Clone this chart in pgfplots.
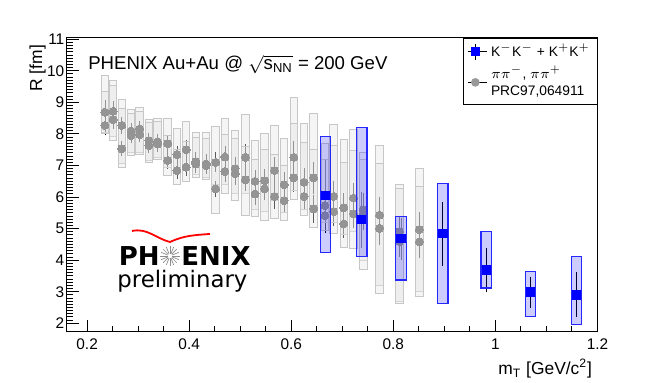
\documentclass[border=0pt]{standalone}
\usepackage{fontspec}
\setmainfont{Liberation Sans}
\newfontfamily\logofont{DejaVu Sans}
\usepackage{pgfplots}
\usepackage{pgfplotstable}
\pgfplotsset{compat=1.18}

% pion points: x, R, stat error, systematic low/high
\pgfplotstableread{
x     y     e     slo   shi
0.235 8.69  0.33  8.05  9.86
0.235 8.27  0.25  8.00  9.36
0.251 8.72  0.25  7.92  9.70
0.251 8.45  0.22  7.79  9.54
0.268 8.27  0.20  7.05  9.09
0.268 7.53  0.17  6.93  8.80
0.286 8.09  0.18  7.40  8.77
0.286 7.95  0.17  7.32  8.65
0.303 8.16  0.18  7.40  8.83
0.303 7.98  0.18  7.34  8.70
0.321 7.79  0.18  7.15  8.45
0.321 7.63  0.17  7.10  8.35
0.338 7.75  0.18  7.25  8.48
0.338 7.68  0.18  7.19  8.40
0.358 7.69  0.20  6.95  8.48
0.358 7.16  0.20  6.68  7.95
0.376 7.34  0.22  6.75  8.16
0.376 6.84  0.20  6.40  7.50
0.394 7.50  0.25  6.85  8.41
0.394 6.95  0.22  6.50  7.75
0.413 7.12  0.25  6.70  8.03
0.413 7.05  0.22  6.61  7.90
0.433 7.05  0.25  6.62  8.06
0.433 7.00  0.22  6.55  7.85
0.452 7.10  0.25  6.40  8.22
0.452 6.26  0.20  5.47  7.20
0.470 7.27  0.30  6.40  8.48
0.470 6.81  0.28  6.10  7.98
0.490 6.90  0.30  6.10  8.11
0.490 6.74  0.28  5.89  7.87
0.510 7.26  0.35  6.10  8.61
0.510 6.55  0.30  5.41  7.60
0.529 6.50  0.30  5.60  7.79
0.529 6.10  0.28  5.38  7.20
0.548 6.52  0.32  5.55  8.00
0.548 6.26  0.30  5.25  7.50
0.567 6.84  0.38  5.90  8.27
0.567 6.02  0.32  5.31  7.35
0.586 6.39  0.35  5.50  7.85
0.586 5.89  0.32  5.25  7.00
0.605 7.26  0.45  6.20  9.15
0.605 6.61  0.38  5.91  8.32
0.625 6.47  0.40  5.60  8.32
0.625 6.02  0.38  5.41  7.74
0.644 6.61  0.45  5.50  8.66
0.644 5.63  0.38  5.02  7.50
0.666 5.73  0.40  5.20  7.69
0.666 5.41  0.38  4.95  7.20
0.683 6.02  0.42  5.20  8.29
0.683 5.54  0.38  4.83  7.63
0.703 5.66  0.40  4.80  7.82
0.703 5.15  0.38  4.41  7.10
0.722 5.97  0.42  4.90  8.13
0.722 5.47  0.40  4.36  7.48
0.741 5.60  0.45  4.00  7.42
0.741 5.45  0.42  3.72  7.20
0.773 5.43  0.50  3.20  7.63
0.773 5.01  0.45  2.93  7.05
0.812 4.90  0.45  2.70  6.39
0.812 4.60  0.45  2.63  6.26
0.851 4.97  0.50  3.00  6.90
0.851 4.58  0.45  2.84  6.32
}\pions

% kaon points: x, R, stat errors (minus/plus), systematic low/high
\pgfplotstableread{
x     y     em    ep    slo   shi
0.667 6.05  1.11  1.09  4.25  7.93
0.738 5.28  0.84  0.82  4.11  8.20
0.815 4.68  0.61  0.60  3.37  5.39
0.897 4.84  0.96  0.94  2.64  6.43
0.982 3.69  0.64  0.64  3.12  4.91
1.069 2.99  0.44  0.42  2.21  3.64
1.159 2.90  0.64  0.66  1.97  4.11
}\kaons

\newcommand{\yu}{15.78} % pt per fm along y

\pgfdeclareplotmark{sysbox}{%
  \pgfpathrectanglecorners{\pgfpoint{-\pgfplotmarksize}{\blo pt}}{\pgfpoint{\pgfplotmarksize}{\bhi pt}}%
  \pgfusepathqfillstroke}

\pgfplotsset{
  sysbox/.style={only marks, scatter, mark=sysbox, forget plot,
    visualization depends on={(\thisrow{slo}-\thisrow{y})*\yu \as \blo},
    visualization depends on={(\thisrow{shi}-\thisrow{y})*\yu \as \bhi}},
}

\begin{document}
\begin{tikzpicture}
\begin{axis}[
    name=ax,
    scale only axis,
    width=265.4pt, height=146.85pt,
    xmin=0.16, xmax=1.2,
    ymin=1.734, ymax=11.04,
    xtick={0.2,0.4,...,1.2},
    ytick={2,...,11},
    minor x tick num=3,
    minor y tick num=9,
    tick align=inside,
    xtick pos=bottom, ytick pos=left,
    major tick length=6pt, minor tick length=3pt,
    tick style={black, line width=0.5pt},
    axis line style={line width=0.5pt},
    ticklabel style={font=\fontsize{7.7}{9}\selectfont},
    yticklabel style={inner xsep=1pt},
    /pgf/number format/assume math mode=true,
    xlabel={m\textsubscript{T} [GeV/c\textsuperscript{2}]},
    xlabel style={at={(axis description cs:1.003,-0.068)}, anchor=north east, font=\fontsize{8.7}{10}\selectfont},
    ylabel={R [fm]},
    ylabel style={at={(axis description cs:-0.055,1)}, anchor=east, font=\fontsize{8.7}{10}\selectfont},
    legend style={at={(1,1)}, anchor=north east, draw=black, line width=0.5pt,
      font=\fontsize{6.9}{7.8}\selectfont, row sep=0pt, inner xsep=2pt, inner ysep=1pt,
      nodes={inner sep=1.6pt}},
    legend cell align=left,
]
\addlegendimage{legend image code/.code={
  \path (0,0) -- (9.5pt,0);
  \draw[black, line width=0.4pt] (3.5pt,-4pt) -- (3.5pt,4pt);
  \fill[blue] (3.5pt,0pt) ++(-2pt,-2pt) rectangle ++(4pt,4pt);}}
\addlegendentry{K$^{-}$K$^{-}$ + K$^{+}$K$^{+}$}
\addlegendimage{legend image code/.code={
  \path (0,0) -- (9.5pt,0);
  \fill[black!40] (3.5pt,0pt) circle (1.9pt);}}
\addlegendentry{\shortstack[l]{$\pi\pi^{-}$, $\pi\pi^{+}$\\PRC97,064911}}

% pion systematic boxes
\addplot[sysbox, mark size=1.9pt,
  scatter/use mapped color={draw=black!22, fill=black!10},
  mark options={line width=0.5pt, fill opacity=0.4}] table {\pions};
% pion points with statistical errors
\addplot[only marks, forget plot, color=black!42, mark=*, mark size=2pt,
  mark options={draw=black!42, fill=black!42, line width=0pt},
  error bars/.cd, y dir=both, y explicit,
  error bar style={black, line width=0.4pt},
  error mark options={black, mark size=1pt, line width=0.4pt}]
  table[y error=e] {\pions};
% kaon systematic boxes
\addplot[sysbox, mark size=2.6pt,
  scatter/use mapped color={draw=blue!85, fill=blue},
  mark options={line width=0.6pt, fill opacity=0.2}] table {\kaons};
% kaon points with statistical errors
\addplot[only marks, forget plot, color=blue, mark=square*, mark size=2.1pt,
  mark options={draw=blue, fill=blue, line width=0pt},
  error bars/.cd, y dir=both, y explicit,
  error bar style={black, line width=0.4pt},
  error mark options={black, mark size=1pt, line width=0.4pt}]
  table[y error plus=ep, y error minus=em] {\kaons};

\node[anchor=base west, inner sep=0pt, font=\fontsize{9.3}{11}\selectfont]
  at (axis description cs:0.040,0.893) {PHENIX Au+Au @ $\sqrt{\mathrm{s}_{\mathrm{NN}}}$ = 200 GeV};

% PHENIX preliminary logo
\node[anchor=base east, inner sep=0pt, font=\logofont\bfseries\fontsize{13}{15}\selectfont]
  at (axis description cs:0.1758,0.2271) {PH};
\node[anchor=base west, inner sep=0pt, font=\logofont\bfseries\fontsize{13}{15}\selectfont]
  at (axis description cs:0.2153,0.2271) {ENIX};
\coordinate (star) at (axis description cs:0.1946,0.2578);
\draw[red, line width=0.9pt] (axis description cs:0.123,0.343)
  to[out=12, in=165] (axis description cs:0.1946,0.3054)
  to[out=25, in=185] (axis description cs:0.270,0.333);
\node[anchor=base west, inner sep=0pt, font=\logofont\fontsize{11.4}{13}\selectfont]
  at (axis description cs:0.0949,0.1522) {preliminary};
\end{axis}
\foreach \a in {0,22.5,...,337.5}
  \draw[black!45, line width=0.35pt] ([shift={(\a:1.2pt)}]star) -- ([shift={(\a:4.8pt)}]star);
\pgfresetboundingbox
\useasboundingbox ([shift={(-33.35pt,-25.15pt)}]ax.south west) rectangle ([shift={(33.25pt,19pt)}]ax.north east);
\end{tikzpicture}
\end{document}
